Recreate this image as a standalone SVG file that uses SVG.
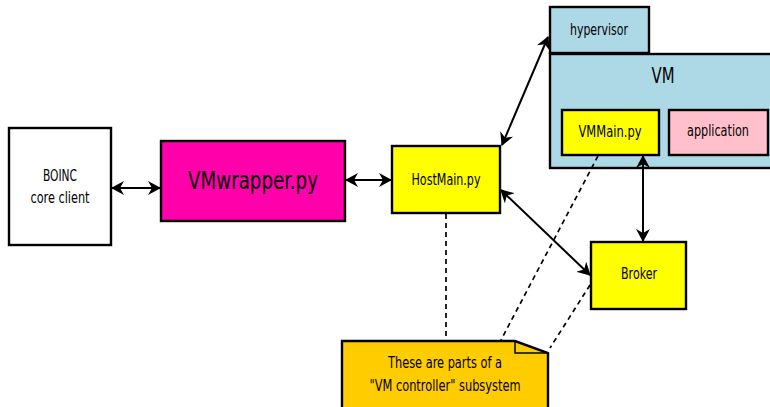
<svg xmlns="http://www.w3.org/2000/svg" width="770" height="407" viewBox="0 0 770 407">
<style>
.box{stroke:#000;stroke-width:2.4}
.t{font-family:"DejaVu Sans Condensed","DejaVu Sans",sans-serif;fill:#000;text-anchor:middle;dominant-baseline:central}
.s{font-size:16.5px}
.c{fill:none;stroke:#000;stroke-width:2}
.d{fill:none;stroke:#000;stroke-width:1.7;stroke-dasharray:5,4}
</style>
<defs>
<marker id="ah" viewBox="0 0 13 14" refX="12" refY="7" markerWidth="13" markerHeight="14" markerUnits="userSpaceOnUse" orient="auto-start-reverse">
<path d="M0,0 L13,7 L0,14 L4,7 z" fill="#000"/>
</marker>
</defs>
<rect width="770" height="407" fill="#fff"/>
<g id="boinc"><rect class="box" x="9" y="128" width="102" height="117" fill="#fff"/>
<text class="t s" x="60" y="175" textLength="34" lengthAdjust="spacingAndGlyphs">BOINC</text><text class="t s" x="60" y="197" textLength="59" lengthAdjust="spacingAndGlyphs">core client</text></g>
<g id="vmwrapper"><rect class="box" x="161" y="141" width="184" height="80" fill="#ff00aa"/>
<text class="t" x="253" y="180" font-size="25" textLength="130" lengthAdjust="spacingAndGlyphs">VMwrapper.py</text></g>
<g id="hostmain"><rect class="box" x="392" y="146" width="108" height="67" fill="#ffff00"/>
<text class="t s" x="446" y="179" textLength="69" lengthAdjust="spacingAndGlyphs">HostMain.py</text></g>
<g id="hypervisor"><rect class="box" x="550" y="7" width="99" height="46" fill="#add8e6"/>
<text class="t s" x="599" y="29" textLength="58" lengthAdjust="spacingAndGlyphs">hypervisor</text></g>
<g id="vm"><rect class="box" x="550" y="54" width="225" height="114" fill="#add8e6"/>
<text class="t" x="663" y="75" font-size="22" textLength="23" lengthAdjust="spacingAndGlyphs">VM</text></g>
<g id="vmmain"><rect class="box" x="562" y="110" width="97" height="45" fill="#ffff00"/>
<text class="t s" x="610" y="131" textLength="63" lengthAdjust="spacingAndGlyphs">VMMain.py</text></g>
<g id="application"><rect class="box" x="669" y="110" width="99" height="45" fill="#ffc0cb"/>
<text class="t s" x="718" y="130" textLength="62" lengthAdjust="spacingAndGlyphs">application</text></g>
<g id="broker"><rect class="box" x="591" y="242" width="95" height="67" fill="#ffff00"/>
<text class="t s" x="639" y="273" textLength="36" lengthAdjust="spacingAndGlyphs">Broker</text></g>
<g id="note"><path class="box" d="M342,341 L515,341 L548,353 L548,410 L342,410 z" fill="#ffcc00"/>
<path d="M515,341 L515,353 L548,353" fill="none" stroke="#000" stroke-width="1.5"/>
<text class="t s" x="445" y="362" textLength="114" lengthAdjust="spacingAndGlyphs">These are parts of a</text><text class="t s" x="445" y="385" textLength="151" lengthAdjust="spacingAndGlyphs">"VM controller" subsystem</text></g>
<g id="connectors">
<line class="c" x1="112" y1="188" x2="160" y2="188" marker-start="url(#ah)" marker-end="url(#ah)"/>
<line class="c" x1="346" y1="180" x2="391" y2="180" marker-start="url(#ah)" marker-end="url(#ah)"/>
<line class="c" x1="502" y1="145" x2="548" y2="37" marker-start="url(#ah)" marker-end="url(#ah)"/>
<line class="c" x1="501" y1="190" x2="590" y2="275" marker-start="url(#ah)" marker-end="url(#ah)"/>
<line class="c" x1="643" y1="156" x2="643" y2="241" marker-start="url(#ah)" marker-end="url(#ah)"/>
<line class="d" x1="446" y1="214" x2="446" y2="340"/>
<line class="d" x1="598" y1="156" x2="501" y2="340"/>
<line class="d" x1="590" y1="285" x2="550" y2="348"/>
</g>
</svg>
